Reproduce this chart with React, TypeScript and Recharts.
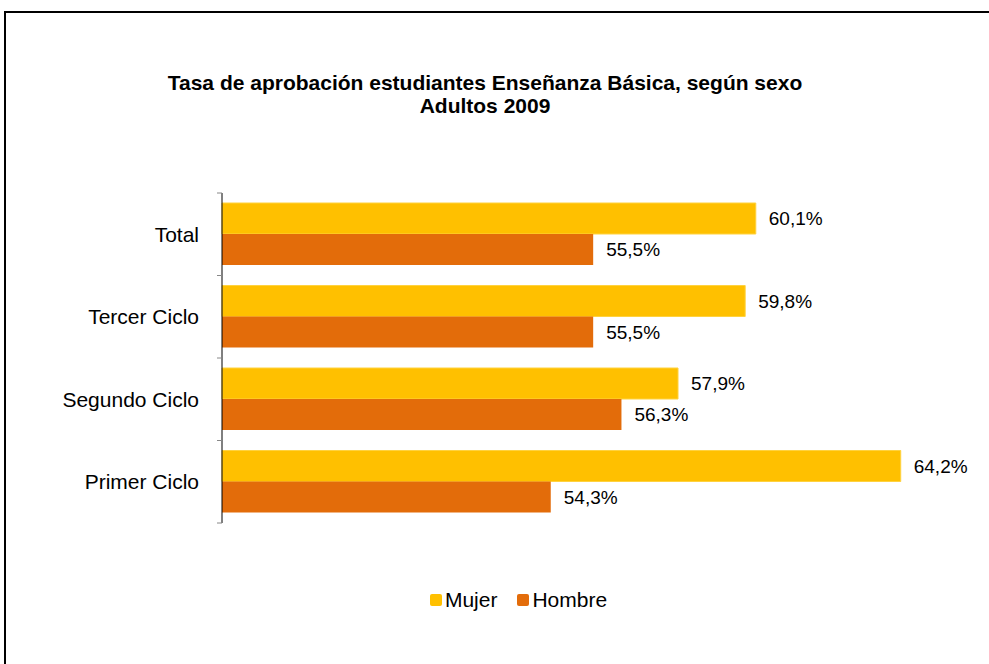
import React from "react";
import {
  BarChart,
  Bar,
  XAxis,
  YAxis,
  Legend,
  LabelList,
} from "recharts";

const categories = ["Total", "Tercer Ciclo", "Segundo Ciclo", "Primer Ciclo"];
const mujer = [60.1, 59.8, 57.9, 64.2];
const hombre = [55.5, 55.5, 56.3, 54.3];

const COLORS = { Mujer: "#FFC000", Hombre: "#E36C0A" };
const FONT = "Arial, 'Liberation Sans', sans-serif";
const TICK_MARGIN = 23;

const data = categories.map((name, i) => ({
  name,
  Mujer: mujer[i],
  Hombre: hombre[i],
}));

const fmt = (v: number) => `${v.toFixed(1).replace(".", ",")}%`;

// category label plus small gray marks at the band edges
const CategoryTick = (props: any) => {
  const { x, y, payload, index, visibleTicksCount } = props;
  const half = payload?.offset;
  const ax = x + TICK_MARGIN;
  return (
    <g>
      <text
        x={x}
        y={y}
        dy="0.355em"
        textAnchor="end"
        fill="#000"
        fontSize={21}
        fontFamily={FONT}
      >
        {payload?.value}
      </text>
      {typeof half === "number" && half > 0 && (
        <line x1={ax - 5} x2={ax} y1={y - half} y2={y - half} stroke="#888" />
      )}
      {typeof half === "number" && half > 0 && index === visibleTicksCount - 1 && (
        <line x1={ax - 5} x2={ax} y1={y + half} y2={y + half} stroke="#888" />
      )}
    </g>
  );
};

const LegendContent = () => (
  <div
    style={{
      display: "flex",
      justifyContent: "center",
      gap: 20,
      fontFamily: FONT,
      fontSize: 21,
      color: "#000",
      paddingLeft: 96,
    }}
  >
    {(["Mujer", "Hombre"] as const).map((k) => (
      <div key={k} style={{ display: "flex", alignItems: "center" }}>
        <span
          style={{
            width: 12,
            height: 12,
            background: COLORS[k],
            borderRadius: 2,
            marginRight: 3,
          }}
        />
        {k}
      </div>
    ))}
  </div>
);

export default function App() {
  return (
    <div style={{ position: "absolute", left: 0, top: 0, width: 989, height: 664, overflow: "hidden", background: "#fff" }}>
      <div
        style={{
          position: "absolute",
          left: 4,
          top: 11,
          width: 1100,
          height: 800,
          border: "2px solid #000",
        }}
      />
      <div
        style={{
          position: "absolute",
          left: 0,
          width: 970,
          top: 71,
          textAlign: "center",
          fontFamily: FONT,
          fontWeight: "bold",
          fontSize: 21,
          lineHeight: "23px",
          color: "#000",
        }}
      >
        Tasa de aprobación estudiantes Enseñanza Básica, según sexo
        <br />
        Adultos 2009
      </div>
      <div style={{ position: "absolute", left: 0, top: 0 }}>
        <BarChart
          width={989}
          height={664}
          data={data}
          layout="vertical"
          margin={{ top: 193, right: 60, left: 12, bottom: 117 }}
          barGap={0}
          barSize={31}
        >
          <XAxis type="number" domain={[45, 65]} hide />
          <YAxis
            type="category"
            dataKey="name"
            width={210}
            axisLine={{ stroke: "#000" }}
            tickLine={false}
            tickSize={0}
            tickMargin={TICK_MARGIN}
            tick={<CategoryTick />}
          />
          <Legend
            verticalAlign="bottom"
            content={<LegendContent />}
            wrapperStyle={{ bottom: 52 }}
          />
          <Bar dataKey="Mujer" fill={COLORS.Mujer} stroke="#FFD23F" isAnimationActive={false}>
            <LabelList
              dataKey="Mujer"
              position="right"
              offset={13}
              formatter={(v: number) => fmt(v)}
              style={{ fill: "#000", fontSize: 19, fontFamily: FONT }}
            />
          </Bar>
          <Bar dataKey="Hombre" fill={COLORS.Hombre} isAnimationActive={false}>
            <LabelList
              dataKey="Hombre"
              position="right"
              offset={13}
              formatter={(v: number) => fmt(v)}
              style={{ fill: "#000", fontSize: 19, fontFamily: FONT }}
            />
          </Bar>
        </BarChart>
      </div>
    </div>
  );
}
